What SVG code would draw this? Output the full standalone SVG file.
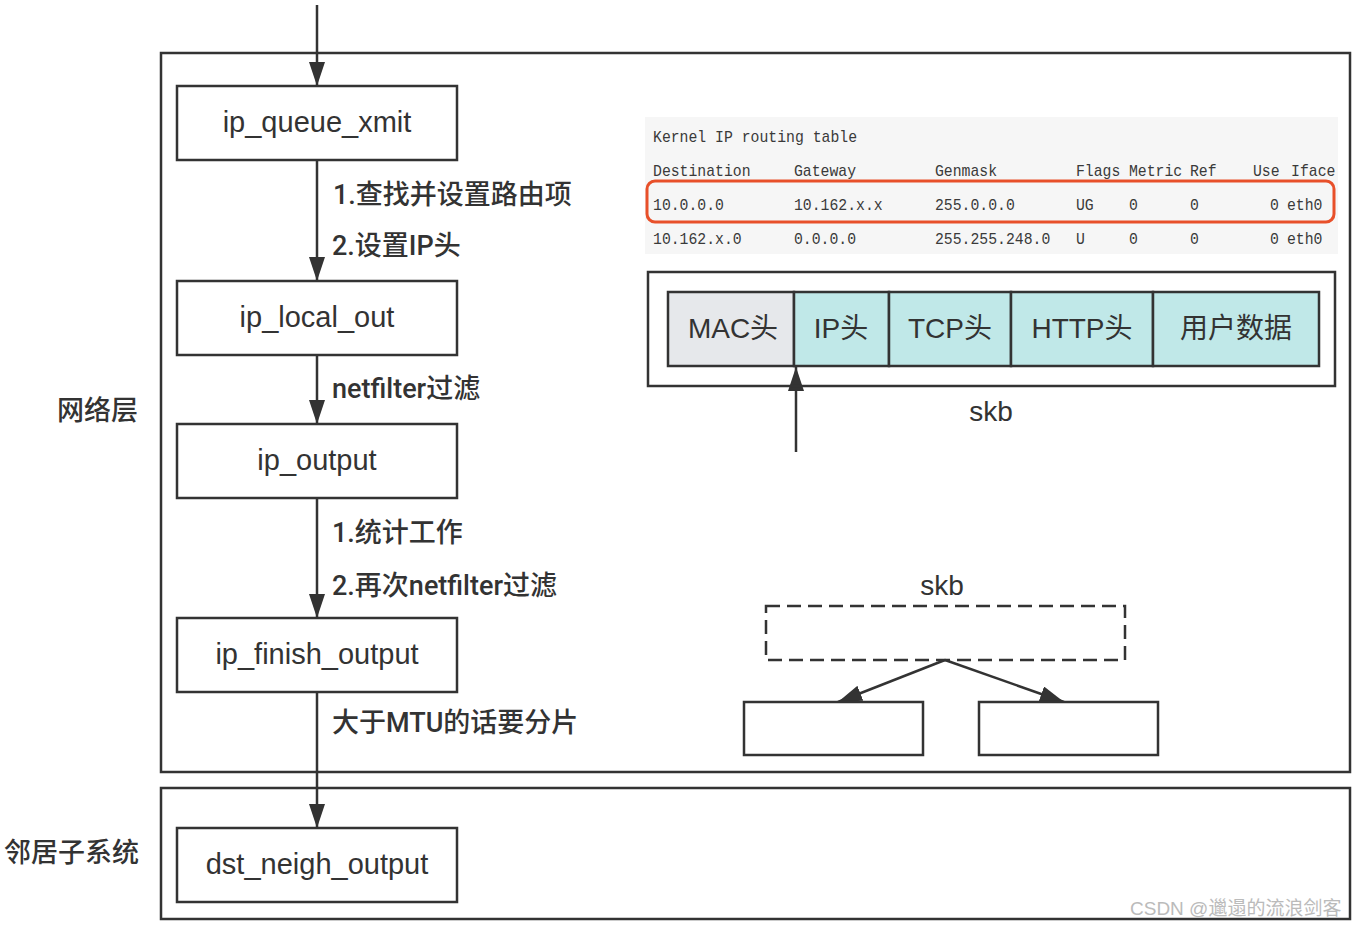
<svg xmlns="http://www.w3.org/2000/svg" width="1356" height="926" viewBox="0 0 1356 926">
<style>
.frame{fill:none;stroke:#333;stroke-width:2.5}
.node{fill:#fff;stroke:#333;stroke-width:2.5}
.nt{font-family:"Liberation Sans","Noto Sans CJK SC",sans-serif;font-size:29px;fill:#333;text-anchor:middle}
.ct{font-family:"Liberation Sans","Noto Sans CJK SC",sans-serif;font-size:28px;fill:#333;text-anchor:middle}
.lb{font-family:Roboto,"Noto Sans CJK SC",sans-serif;font-size:27px;fill:#333;font-weight:500}
.mono{font-family:"Liberation Mono",monospace;font-size:17px;fill:#3a3a3a}
.conn{stroke:#333;stroke-width:2.5;fill:none}
.cell{stroke:#333;stroke-width:2.5}
</style>
<defs>
<marker id="ah" viewBox="0 0 24 16" refX="24" refY="8" markerWidth="24" markerHeight="16" markerUnits="userSpaceOnUse" orient="auto">
<path d="M0,0 L24,8 L0,16 Z" fill="#333"/>
</marker>
</defs>
<rect width="1356" height="926" fill="#fff"/>
<g id="layers">
<rect class="frame" x="161" y="53" width="1189" height="719"/>
<rect class="frame" x="161" y="788" width="1189" height="131"/>
<text class="lb" x="57" y="420">网络层</text>
<text class="lb" x="4" y="862">邻居子系统</text>
</g>
<g id="connectors">
<line class="conn" x1="317" y1="5" x2="317" y2="86" marker-end="url(#ah)"/>
<line class="conn" x1="317" y1="160" x2="317" y2="281" marker-end="url(#ah)"/>
<line class="conn" x1="317" y1="355" x2="317" y2="424" marker-end="url(#ah)"/>
<line class="conn" x1="317" y1="498" x2="317" y2="618" marker-end="url(#ah)"/>
<line class="conn" x1="317" y1="692" x2="317" y2="828" marker-end="url(#ah)"/>
<line class="conn" x1="796" y1="452" x2="796" y2="367" marker-end="url(#ah)"/>
<line class="conn" x1="945" y1="660" x2="838" y2="702" marker-end="url(#ah)"/>
<line class="conn" x1="945" y1="660" x2="1064" y2="702" marker-end="url(#ah)"/>
</g>
<g id="labels">
<text class="lb" x="333" y="204">1.查找并设置路由项</text>
<text class="lb" x="332" y="255">2.设置IP头</text>
<text class="lb" x="332" y="398">netfilter过滤</text>
<text class="lb" x="332" y="542">1.统计工作</text>
<text class="lb" x="332" y="595">2.再次netfilter过滤</text>
<text class="lb" x="332" y="732">大于MTU的话要分片</text>
</g>
<g id="ip_queue_xmit">
<rect class="node" x="177" y="86" width="280" height="74"/>
<text class="nt" x="317" y="132">ip_queue_xmit</text>
</g>
<g id="ip_local_out">
<rect class="node" x="177" y="281" width="280" height="74"/>
<text class="nt" x="317" y="327">ip_local_out</text>
</g>
<g id="ip_output">
<rect class="node" x="177" y="424" width="280" height="74"/>
<text class="nt" x="317" y="470">ip_output</text>
</g>
<g id="ip_finish_output">
<rect class="node" x="177" y="618" width="280" height="74"/>
<text class="nt" x="317" y="664">ip_finish_output</text>
</g>
<g id="dst_neigh_output">
<rect class="node" x="177" y="828" width="280" height="74"/>
<text class="nt" x="317" y="874">dst_neigh_output</text>
</g>
<g id="routing_table">
<rect x="645" y="117" width="693" height="137" fill="#f6f6f6"/>
<g transform="scale(0.87,1)">
<text class="mono" x="750.6" y="142">Kernel IP routing table</text>
<text class="mono" x="750.6" y="176">Destination</text>
<text class="mono" x="912.6" y="176">Gateway</text>
<text class="mono" x="1074.7" y="176">Genmask</text>
<text class="mono" x="1236.8" y="176">Flags</text>
<text class="mono" x="1297.7" y="176">Metric</text>
<text class="mono" x="1367.8" y="176">Ref</text>
<text class="mono" x="1440.2" y="176">Use</text>
<text class="mono" x="1484" y="176">Iface</text>
<text class="mono" x="750.6" y="210">10.0.0.0</text>
<text class="mono" x="912.6" y="210">10.162.x.x</text>
<text class="mono" x="1074.7" y="210">255.0.0.0</text>
<text class="mono" x="1236.8" y="210">UG</text>
<text class="mono" x="1297.7" y="210">0</text>
<text class="mono" x="1367.8" y="210">0</text>
<text class="mono" x="1459.8" y="210">0</text>
<text class="mono" x="1479.3" y="210">eth0</text>
<text class="mono" x="750.6" y="244">10.162.x.0</text>
<text class="mono" x="912.6" y="244">0.0.0.0</text>
<text class="mono" x="1074.7" y="244">255.255.248.0</text>
<text class="mono" x="1236.8" y="244">U</text>
<text class="mono" x="1297.7" y="244">0</text>
<text class="mono" x="1367.8" y="244">0</text>
<text class="mono" x="1459.8" y="244">0</text>
<text class="mono" x="1479.3" y="244">eth0</text>
</g>
<rect x="647" y="181" width="687" height="41" rx="8" fill="none" stroke="#e8502a" stroke-width="3"/>
</g>
<g id="skb">
<rect class="frame" x="648" y="272" width="687" height="114"/>
<rect class="cell" x="668" y="292" width="126" height="74" fill="#e6e8eb"/>
<rect class="cell" x="794" y="292" width="95" height="74" fill="#c0e8e8"/>
<rect class="cell" x="889" y="292" width="122" height="74" fill="#c0e8e8"/>
<rect class="cell" x="1011" y="292" width="142" height="74" fill="#c0e8e8"/>
<rect class="cell" x="1153" y="292" width="166" height="74" fill="#c0e8e8"/>
<text class="ct" x="733" y="338">MAC头</text>
<text class="ct" x="841" y="338">IP头</text>
<text class="ct" x="950" y="338">TCP头</text>
<text class="ct" x="1082" y="338">HTTP头</text>
<text class="ct" x="1236" y="338">用户数据</text>
<text class="ct" x="991" y="421">skb</text>
</g>
<g id="skb_split">
<text class="ct" x="942" y="595">skb</text>
<rect x="766" y="606" width="359" height="54" fill="none" stroke="#333" stroke-width="2.5" stroke-dasharray="14,7"/>
</g>
<g id="frag1">
<rect class="node" x="744" y="702" width="179" height="53"/>
</g>
<g id="frag2">
<rect class="node" x="979" y="702" width="179" height="53"/>
</g>
<text x="1130" y="915" font-family="Liberation Sans,'Noto Sans CJK SC',sans-serif" font-size="19" fill="#bbb">CSDN @邋遢的流浪剑客</text>
</svg>
